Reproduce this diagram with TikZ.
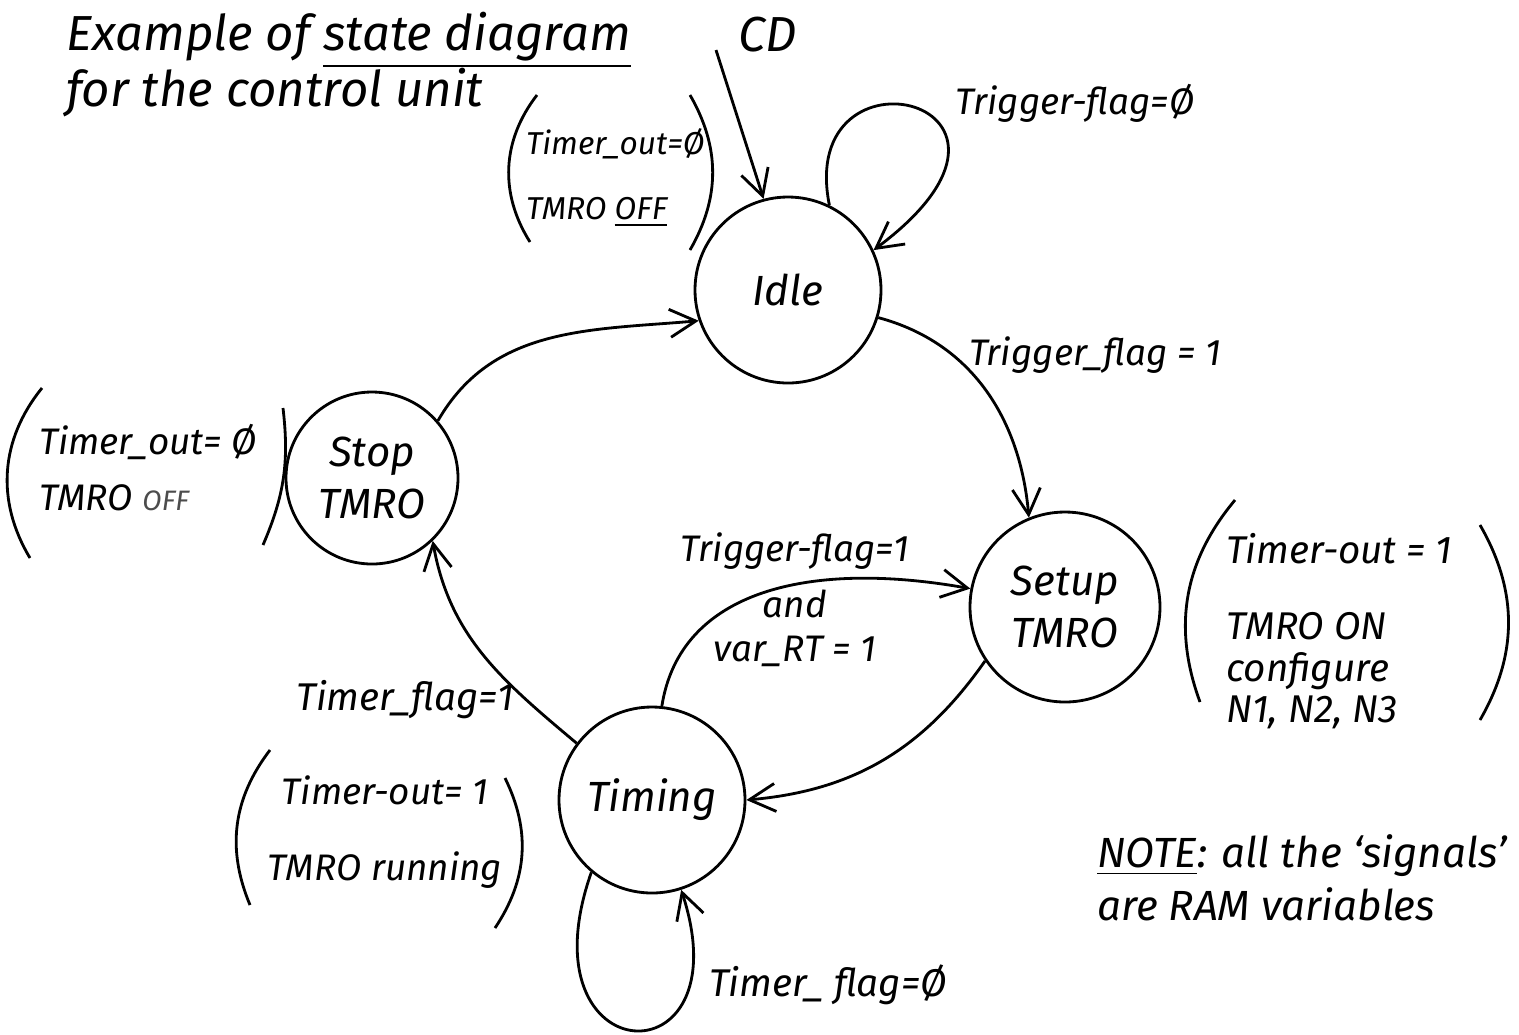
\documentclass[tikz,border=0pt]{standalone}
\usepackage{fontspec}
\setmainfont{Fira Sans}
\usetikzlibrary{arrows.meta}
\tikzset{
  state/.style={draw,circle,thick,minimum size=18.6mm,inner sep=1pt,align=center,font=\fontsize{12}{15}\selectfont\itshape},
  heading/.style={font=\fontsize{14}{16}\selectfont\itshape,inner sep=1pt},
  lbl/.style={font=\fontsize{10.5}{12.5}\selectfont\itshape,inner sep=1pt},
  outp/.style={lbl,align=left},
  ar/.style={-{Straight Barb[length=2.6mm,width=2.8mm]},thick},
  paren/.style={thick},
}

\begin{document}
\begin{tikzpicture}[x=0.1mm,y=-0.1mm]
  \useasboundingbox (0,0) rectangle (1519,1034);
  % states
  \node[state] (idle) at (788,290) {Idle};
  \node[state,minimum size=17.2mm] (stop) at (372,478) {Stop\\TMRO};
  \node[state,minimum size=19mm] (setup) at (1065,607) {Setup\\TMRO};
  \node[state] (timing) at (652,800) {Timing};
  % title and entry
  \node[heading,align=left,anchor=north west] (title) at (62,8) {Example of \underline{state diagram}\\for the control unit};
  \node[heading] (cd) at (768,35) {CD};
  \coordinate (cdin) at (716,50);
  \draw[ar] (cdin) -- (idle.105);
  % transitions
  \draw[ar] (idle.64) .. controls (795,35) and (1075,100) .. (idle.25);
  \draw[ar] (idle.-17) to[out=-15,in=95] (setup.112);
  \draw[ar] (setup.-146) to[out=-125,in=5] (timing.0);
  \draw[ar] (timing.84) .. controls (680,590) and (810,560) .. (setup.169);
  \draw[ar] (timing.143) to[out=140,in=-80] (stop.-46);
  \draw[ar] (stop.41) to[out=60,in=185] (idle.199);
  \draw[ar] (timing.-130) .. controls (520,1075) and (745,1085) .. (timing.-72);
  % transition labels
  \node[lbl] (l1) at (1075,103) {Trigger-flag=\O};
  \node[lbl] (l2) at (1095,355) {Trigger\_flag = 1};
  \node[lbl,align=center] (l3) at (795,600) {Trigger-flag=1\\[1.2mm]and\\var\_RT = 1};
  \node[lbl,font=\fontsize{11}{13}\selectfont\itshape] (l4) at (405,700) {Timer\_flag=1};
  \node[lbl,font=\fontsize{11}{13}\selectfont\itshape] (l5) at (828,985) {Timer\_ flag=\O};
  % outputs of each state
  \node[outp,font=\fontsize{9}{11}\selectfont\itshape,anchor=west] (idleout) at (522,178) {Timer\_out=\O\\[2.6mm]TMRO \underline{OFF}};
  \draw[paren] (537,95) to[bend right=35] (530,242);
  \draw[paren] (690,95) to[bend left=30] (690,250);
  \node[outp,anchor=west] (stopout) at (35,468) {Timer\_out= \O\\[1.2mm]TMRO {\fontsize{8}{10}\selectfont\color{black!70}OFF}};
  \draw[paren] (42,388) to[bend right=35] (30,558);
  \draw[paren] (283,408) to[bend left=15] (263,545);
  \node[outp,font=\fontsize{11}{11.8}\selectfont\itshape,anchor=west] (setupout) at (1222,631) {Timer-out = 1\\[3.5mm]TMRO ON\\configure\\N1, N2, N3};
  \draw[paren] (1235,500) to[bend right=30] (1200,702);
  \draw[paren] (1480,525) to[bend left=30] (1480,720);
  \node[outp,align=center] (timingout) at (385,832) {Timer-out= 1\\[3.2mm]TMRO running};
  \draw[paren] (270,750) to[bend right=30] (250,905);
  \draw[paren] (505,778) to[bend left=30] (495,928);
  % note
  \node[lbl,font=\fontsize{12}{15}\selectfont\itshape,align=left,anchor=west] (note) at (1093,878) {\underline{NOTE}: all the `signals'\\are RAM variables};
\end{tikzpicture}
\end{document}
